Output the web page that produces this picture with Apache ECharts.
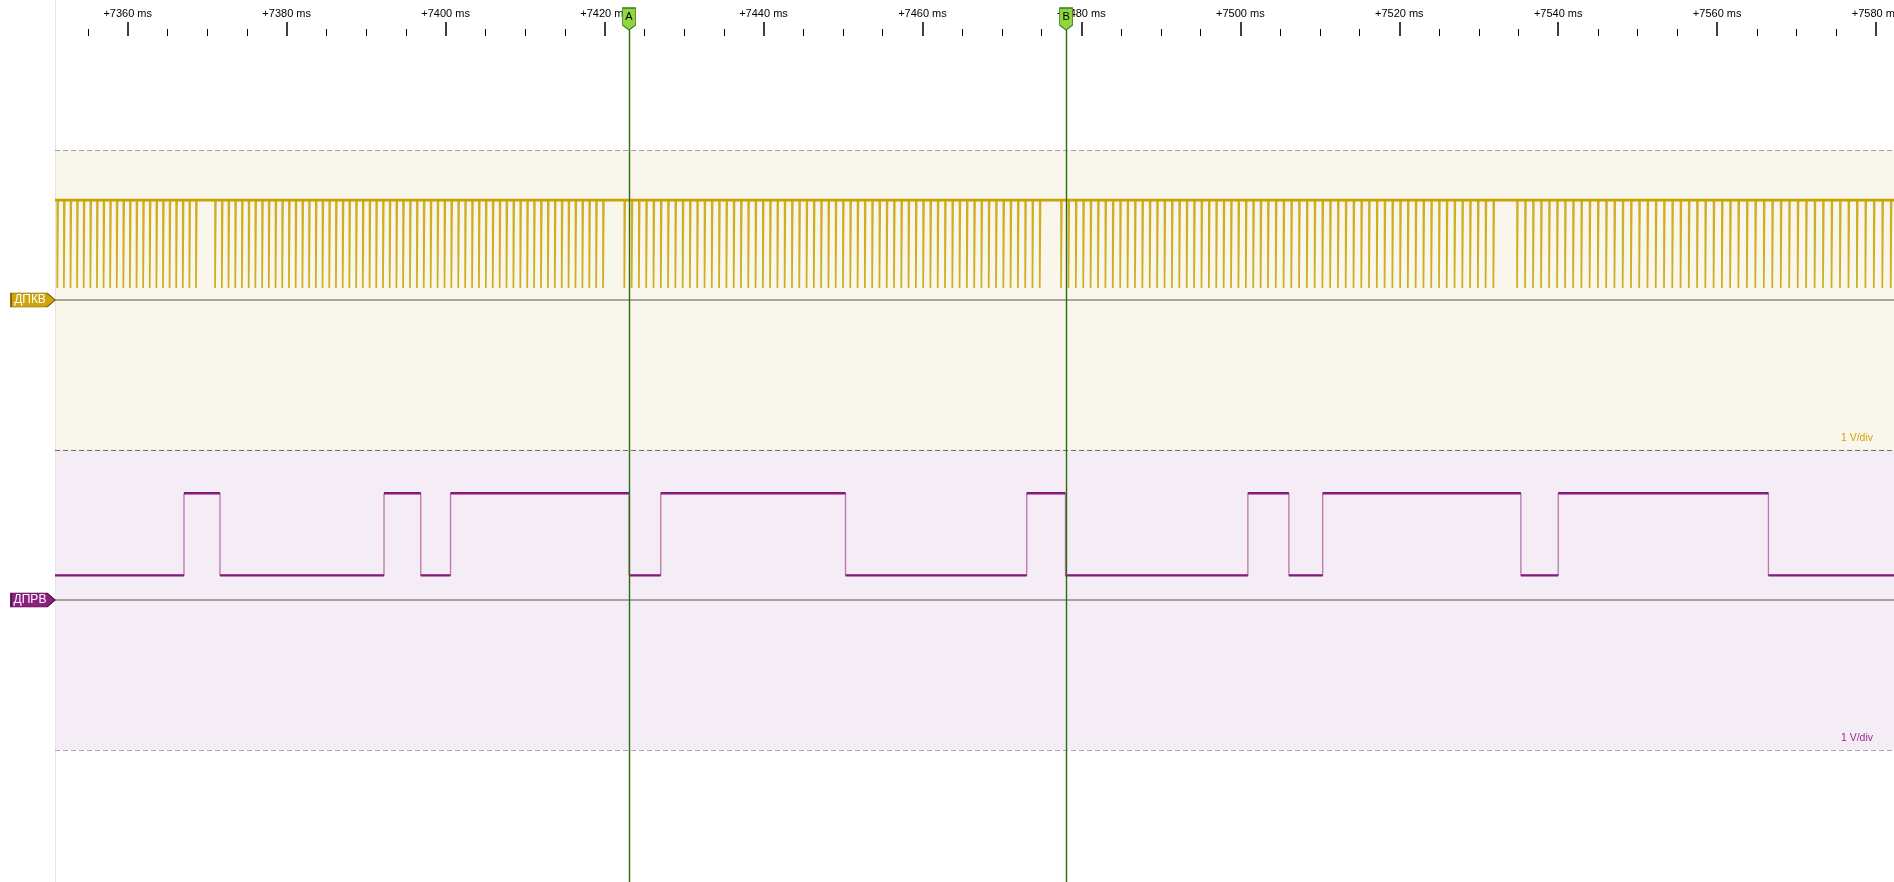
<!DOCTYPE html>
<html><head><meta charset="utf-8">
<script src="https://cdn.jsdelivr.net/npm/echarts@6/dist/echarts.min.js"></script>
<style>html,body{margin:0;padding:0;background:#fff;overflow:hidden}#c{width:1894px;height:882px}</style>
</head><body><div id="c"></div><script>
// ---- time axis (ms) ----
const timeRange = [7350.85, 7582.25];
const majorTicks = [7360, 7380, 7400, 7420, 7440, 7460, 7480, 7500, 7520, 7540, 7560, 7580];
const tickLabels = ['+7360 ms', '+7380 ms', '+7400 ms', '+7420 ms', '+7440 ms', '+7460 ms', '+7480 ms', '+7500 ms', '+7520 ms', '+7540 ms', '+7560 ms', '+7580 ms'];
const minorTicks = [7355, 7365, 7370, 7375, 7385, 7390, 7395, 7405, 7410, 7415, 7425, 7430, 7435, 7445, 7450, 7455, 7465, 7470, 7475, 7485, 7490, 7495, 7505, 7510, 7515, 7525, 7530, 7535, 7545, 7550, 7555, 7565, 7570, 7575];

// ---- cursors ----
const cursorNames = ['A', 'B'];
const cursorTimes = [7423.08, 7478.07];

// ---- channel 1: ДПКВ (crank sensor), pulse times in ms, per revolution ----
const ch1Name = 'ДПКВ';
const ch1High = 3.33, ch1Low = 0.4, ch1PulseWidth = 0.1;
const ch1Rev0 = [7351.14, 7351.97, 7352.80, 7353.63, 7354.46, 7355.30, 7356.13, 7356.96, 7357.79, 7358.62, 7359.45, 7360.28, 7361.11, 7361.94, 7362.77, 7363.61, 7364.44, 7365.27, 7366.10, 7366.93, 7367.76, 7368.59];
const ch1Rev1 = [7370.99, 7371.84, 7372.68, 7373.53, 7374.37, 7375.22, 7376.06, 7376.91, 7377.75, 7378.60, 7379.44, 7380.29, 7381.13, 7381.98, 7382.82, 7383.67, 7384.51, 7385.36, 7386.20, 7387.05, 7387.89, 7388.74, 7389.58, 7390.43, 7391.27, 7392.12, 7392.96, 7393.81, 7394.65, 7395.52, 7396.39, 7397.25, 7398.12, 7398.99, 7399.86, 7400.72, 7401.59, 7402.46, 7403.33, 7404.19, 7405.06, 7405.93, 7406.80, 7407.66, 7408.53, 7409.40, 7410.27, 7411.13, 7412.00, 7412.87, 7413.74, 7414.61, 7415.47, 7416.34, 7417.21, 7418.08, 7418.94, 7419.81];
const ch1Rev2 = [7422.49, 7423.41, 7424.32, 7425.24, 7426.16, 7427.08, 7427.99, 7428.91, 7429.83, 7430.74, 7431.66, 7432.58, 7433.49, 7434.41, 7435.33, 7436.25, 7437.16, 7438.08, 7439.00, 7439.92, 7440.83, 7441.75, 7442.66, 7443.58, 7444.50, 7445.42, 7446.33, 7447.25, 7448.17, 7449.08, 7450.00, 7450.92, 7451.84, 7452.75, 7453.67, 7454.59, 7455.50, 7456.42, 7457.34, 7458.25, 7459.17, 7460.09, 7461.00, 7461.92, 7462.84, 7463.76, 7464.67, 7465.59, 7466.51, 7467.42, 7468.34, 7469.26, 7470.18, 7471.09, 7472.01, 7472.93, 7473.84, 7474.76];
const ch1Rev3 = [7477.44, 7478.37, 7479.30, 7480.23, 7481.16, 7482.09, 7483.02, 7483.95, 7484.88, 7485.81, 7486.74, 7487.67, 7488.60, 7489.53, 7490.46, 7491.39, 7492.32, 7493.25, 7494.18, 7495.11, 7496.04, 7496.97, 7497.90, 7498.83, 7499.76, 7500.69, 7501.62, 7502.55, 7503.48, 7504.46, 7505.44, 7506.41, 7507.39, 7508.37, 7509.35, 7510.33, 7511.30, 7512.28, 7513.26, 7514.24, 7515.22, 7516.19, 7517.17, 7518.15, 7519.13, 7520.11, 7521.08, 7522.06, 7523.04, 7524.02, 7525.00, 7525.97, 7526.95, 7527.93, 7528.91, 7529.89, 7530.86, 7531.84];
const ch1Rev4 = [7534.82, 7535.83, 7536.83, 7537.84, 7538.85, 7539.86, 7540.86, 7541.87, 7542.91, 7543.95, 7544.99, 7546.03, 7547.07, 7548.11, 7549.15, 7550.19, 7551.23, 7552.27, 7553.31, 7554.35, 7555.39, 7556.43, 7557.47, 7558.51, 7559.55, 7560.59, 7561.63, 7562.67, 7563.74, 7564.80, 7565.87, 7566.93, 7568.00, 7569.06, 7570.13, 7571.19, 7572.26, 7573.32, 7574.39, 7575.45, 7576.52, 7577.58, 7578.65, 7579.71, 7580.78, 7581.84];

// ---- channel 2: ДПРВ (cam sensor), edge times in ms (starts low) ----
const ch2Name = 'ДПРВ';
const ch2Low = 0.82, ch2High = 3.56;
const ch2Edges = [7367.08, 7371.61, 7392.25, 7396.87, 7400.62, 7423.08, 7427.07, 7450.32, 7473.12, 7478.00, 7500.95, 7506.11, 7510.36, 7535.30, 7540.00, 7566.45];

const scaleLabel = '1 V/div';
const vRange = [-5, 5];

// ---- build series data ----
const ch1Pulses = [].concat(ch1Rev0, ch1Rev1, ch1Rev2, ch1Rev3, ch1Rev4);
const ch1Data = [[timeRange[0], ch1High]];
ch1Pulses.forEach(t => {
  ch1Data.push([t, ch1High], [t, ch1Low], [t + ch1PulseWidth, ch1Low], [t + ch1PulseWidth, ch1High]);
});
ch1Data.push([timeRange[1], ch1High]);
const ch1Top = [[timeRange[0], ch1High], [timeRange[1], ch1High]];

const ch2Data = [];
const ch2Flat = [];
let lv = ch2Low, segStart = timeRange[0];
ch2Data.push([timeRange[0], lv]);
ch2Edges.forEach(t => {
  ch2Data.push([t, lv]);
  ch2Flat.push([segStart, lv], [t, lv], [t, '-']);
  lv = (lv === ch2Low) ? ch2High : ch2Low;
  ch2Data.push([t, lv]);
  segStart = t;
});
ch2Data.push([timeRange[1], lv]);
ch2Flat.push([segStart, lv], [timeRange[1], lv]);

const FONT = 'Liberation Sans';
const chart = echarts.init(document.getElementById('c'), null, {renderer: 'canvas'});

function hiddenX(i) {
  return {gridIndex: i, type: 'value', min: timeRange[0], max: timeRange[1], show: false, axisLine: {onZero: false}};
}

const option = {
  animation: false,
  backgroundColor: '#ffffff',
  grid: [
    {left: 55, right: 0, top: 150, height: 300, show: true, backgroundColor: '#f9f7eb', borderWidth: 0, outerBoundsMode: 'none', containLabel: false},
    {left: 55, right: 0, top: 450, height: 300, show: true, backgroundColor: '#f4edf5', borderWidth: 0, outerBoundsMode: 'none', containLabel: false},
    {left: 55, right: 0, top: 30, bottom: 0, show: false, outerBoundsMode: 'none', containLabel: false},
    {left: 55, right: 0, top: 0, bottom: 0, show: false, outerBoundsMode: 'none', containLabel: false}
  ],
  xAxis: [
    {gridIndex: 0, type: 'value', min: timeRange[0], max: timeRange[1], position: 'top', offset: 114,
      axisLine: {show: false, onZero: false}, splitLine: {show: false},
      axisTick: {show: true, customValues: majorTicks, length: 14, lineStyle: {color: '#000', width: 1.5}},
      axisLabel: {show: true, customValues: majorTicks, margin: 17, color: '#000', fontSize: 11, fontFamily: FONT,
        formatter: v => tickLabels[majorTicks.indexOf(v)] || ''}
    },
    {gridIndex: 0, type: 'value', min: timeRange[0], max: timeRange[1], position: 'top', offset: 114,
      axisLine: {show: false, onZero: false}, splitLine: {show: false},
      axisTick: {show: true, customValues: minorTicks, length: 7, lineStyle: {color: '#000', width: 1}},
      axisLabel: {show: false}
    },
    hiddenX(1), hiddenX(2), hiddenX(3)
  ],
  yAxis: [
    {gridIndex: 0, type: 'value', min: vRange[0], max: vRange[1], show: false},
    {gridIndex: 1, type: 'value', min: vRange[0], max: vRange[1], show: false},
    {gridIndex: 2, type: 'value', min: 0, max: 1, show: false},
    {gridIndex: 3, type: 'value', min: 0, max: 1, show: true, axisLine: {show: true, onZero: false, lineStyle: {color: '#e6e6e6', width: 1}},
      axisTick: {show: false}, axisLabel: {show: false}, splitLine: {show: false}}
  ],
  series: [
    {
      type: 'line', xAxisIndex: 0, yAxisIndex: 0, data: ch1Data, showSymbol: false, clip: false,
      lineStyle: {color: '#d1ad22', width: 1.7}, z: 3, silent: true,
      markLine: {
        silent: true, symbol: ['none', 'none'], label: {show: false},
        data: [
          {yAxis: vRange[1], lineStyle: {color: '#a9a293', type: [5, 3], width: 1}},
          {yAxis: 0, lineStyle: {color: '#aca596', type: 'solid', width: 2}}
        ]
      },
      markPoint: {
        silent: true,
        data: [{coord: [timeRange[0], 0]}],
        symbol: 'path://M0,0 L36,0 L44,7 L36,14 L0,14 Z',
        symbolSize: [44, 14], symbolOffset: [-22, 0],
        itemStyle: {color: '#d2a40b', borderColor: '#7d6000', borderWidth: 1},
        label: {show: true, position: 'inside', formatter: ch1Name, color: '#fff', fontSize: 12, fontFamily: FONT, offset: [-3, 0]}
      }
    },
    {
      type: 'line', xAxisIndex: 0, yAxisIndex: 0, data: ch1Top, showSymbol: false, clip: false,
      lineStyle: {color: '#c9a200', width: 2.6}, z: 4, silent: true
    },
    {
      type: 'line', xAxisIndex: 2, yAxisIndex: 1, data: ch2Data, showSymbol: false, clip: false,
      lineStyle: {color: '#b877ad', width: 1.3}, z: 3, silent: true,
      markLine: {
        silent: true, symbol: ['none', 'none'], label: {show: false},
        data: [
          {yAxis: vRange[1], lineStyle: {color: '#6f6a6c', type: [5, 3], width: 1}},
          {yAxis: vRange[0], lineStyle: {color: '#aca6ac', type: [5, 3], width: 1}},
          {yAxis: 0, lineStyle: {color: '#aaa1a8', type: 'solid', width: 2}}
        ]
      },
      markPoint: {
        silent: true,
        data: [{coord: [timeRange[0], 0]}],
        symbol: 'path://M0,0 L36,0 L44,7 L36,14 L0,14 Z',
        symbolSize: [44, 14], symbolOffset: [-22, 0],
        itemStyle: {color: '#8c1f80', borderColor: '#4f0a46', borderWidth: 1},
        label: {show: true, position: 'inside', formatter: ch2Name, color: '#fff', fontSize: 12, fontFamily: FONT, offset: [-3, 0]}
      }
    },
    {
      type: 'line', xAxisIndex: 2, yAxisIndex: 1, data: ch2Flat, showSymbol: false, clip: false, connectNulls: false,
      lineStyle: {color: '#86197a', width: 2.4}, z: 4, silent: true
    },
    {
      type: 'line', xAxisIndex: 3, yAxisIndex: 2, data: cursorTimes.map(t => [t, 0]), showSymbol: false,
      lineStyle: {opacity: 0}, z: 10, silent: true,
      markLine: {
        silent: true, symbol: ['none', 'none'], label: {show: false},
        lineStyle: {color: '#2f6b12', width: 1.4, type: 'solid'},
        data: cursorTimes.map(t => ({xAxis: t}))
      },
      markPoint: {
        silent: true,
        symbol: 'path://M0,0 L13,0 L13,17 L6.5,22 L0,17 Z',
        symbolSize: [13, 22], symbolOffset: [0, -11],
        itemStyle: {color: '#8fd63f', borderColor: '#3a7a16', borderWidth: 1},
        label: {show: true, position: 'inside', color: '#000', fontSize: 11, fontFamily: FONT, offset: [0, -2],
          formatter: p => cursorNames[p.dataIndex]},
        data: cursorTimes.map(t => ({coord: [t, 1]}))
      }
    }
  ],
  graphic: [
    {type: 'text', right: 21, top: 433, silent: true,
      style: {text: scaleLabel, fill: '#d1a20a', font: '10.5px "Liberation Sans"'}},
    {type: 'text', right: 21, top: 733, silent: true,
      style: {text: scaleLabel, fill: '#9a2a8e', font: '10.5px "Liberation Sans"'}}
  ]
};
chart.setOption(option);
</script></body></html>
